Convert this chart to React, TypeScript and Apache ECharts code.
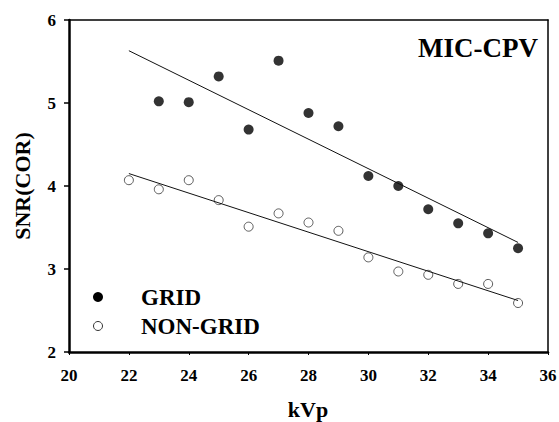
import React, { useEffect, useRef } from "react";
import * as echarts from "echarts";

// Tube voltage (kVp) for each measurement
const gridKvp = [23, 24, 25, 26, 27, 28, 29, 30, 31, 32, 33, 34, 35];
const gridSnr = [5.02, 5.01, 5.32, 4.68, 5.51, 4.88, 4.72, 4.12, 4.0, 3.72, 3.55, 3.43, 3.25];

const nonGridKvp = [22, 23, 24, 25, 26, 27, 28, 29, 30, 31, 32, 33, 34, 35];
const nonGridSnr = [4.07, 3.96, 4.07, 3.83, 3.51, 3.67, 3.56, 3.46, 3.14, 2.97, 2.93, 2.82, 2.82, 2.59];

// Fitted trend lines, given by their end points
const gridFitKvp = [22, 35];
const gridFitSnr = [5.63, 3.32];
const nonGridFitKvp = [22, 35];
const nonGridFitSnr = [4.15, 2.62];

const xTicks = [20, 36, 2];
const yTicks = [2, 6, 1];

const FONT = "'Liberation Serif', 'Times New Roman', serif";
const INK = "#000";

const zip = (xs: number[], ys: number[]) => xs.map((x, i) => [x, ys[i]]);

const labelStyle = { fontFamily: FONT, fontWeight: "bold", fontSize: 17, color: INK };

// Thin frame lines along the top and right edges of the plot
const frameAxis = {
  axisLine: { show: true, lineStyle: { color: INK, width: 1.5 } },
  axisTick: { show: false },
  axisLabel: { show: false },
  splitLine: { show: false },
};

export default function App() {
  const ref = useRef<HTMLDivElement>(null);

  useEffect(() => {
    if (!ref.current) return;
    const chart = echarts.init(ref.current, undefined, { renderer: "svg" });
    chart.setOption({
      animation: false,
      grid: { left: 69, right: 11, top: 20, bottom: 70, outerBoundsMode: "none" },
      xAxis: [
        {
          type: "value",
          position: "bottom",
          min: xTicks[0],
          max: xTicks[1],
          interval: xTicks[2],
          splitLine: { show: false },
          axisLine: { show: true, lineStyle: { color: INK, width: 2.5 } },
          axisTick: { show: true, length: 3, lineStyle: { color: INK, width: 1 } },
          axisLabel: { margin: 15, ...labelStyle },
        },
        { type: "value", position: "top", min: xTicks[0], max: xTicks[1], ...frameAxis },
      ],
      yAxis: [
        {
          type: "value",
          position: "left",
          min: yTicks[0],
          max: yTicks[1],
          interval: yTicks[2],
          splitLine: { show: false },
          axisLine: { show: true, lineStyle: { color: INK, width: 2.5 } },
          axisTick: { show: true, length: 5, lineStyle: { color: INK, width: 1.5 } },
          axisLabel: { margin: 13, ...labelStyle },
        },
        { type: "value", position: "right", min: yTicks[0], max: yTicks[1], ...frameAxis },
      ],
      series: [
        {
          name: "GRID fit",
          type: "line",
          data: zip(gridFitKvp, gridFitSnr),
          showSymbol: false,
          lineStyle: { color: "#111", width: 1 },
          silent: true,
        },
        {
          name: "NON-GRID fit",
          type: "line",
          data: zip(nonGridFitKvp, nonGridFitSnr),
          showSymbol: false,
          lineStyle: { color: "#111", width: 1 },
          silent: true,
        },
        {
          name: "GRID",
          type: "scatter",
          data: zip(gridKvp, gridSnr),
          symbol: "circle",
          symbolSize: 10,
          itemStyle: { color: "#000" },
        },
        {
          name: "NON-GRID",
          type: "scatter",
          data: zip(nonGridKvp, nonGridSnr),
          symbol: "circle",
          symbolSize: 9,
          itemStyle: { color: "rgba(255,255,255,0)", borderColor: "#333", borderWidth: 1 },
        },
      ],
      graphic: [
        {
          type: "text",
          x: 538,
          y: 48,
          style: {
            text: "MIC-CPV",
            font: `bold 27px ${FONT}`,
            fill: INK,
            align: "right",
            verticalAlign: "middle",
          },
        },
        {
          type: "text",
          x: 308,
          y: 409,
          style: {
            text: "kVp",
            font: `bold 22px ${FONT}`,
            fill: INK,
            align: "center",
            verticalAlign: "middle",
          },
        },
        {
          type: "text",
          x: 22,
          y: 186,
          rotation: Math.PI / 2,
          style: {
            text: "SNR(COR)",
            font: `bold 22px ${FONT}`,
            fill: INK,
            align: "center",
            verticalAlign: "middle",
          },
        },
        { type: "circle", shape: { cx: 98, cy: 297, r: 5 }, style: { fill: "#000" } },
        {
          type: "circle",
          shape: { cx: 98, cy: 326, r: 4.5 },
          style: { fill: "none", stroke: "#333", lineWidth: 1 },
        },
        {
          type: "text",
          x: 141,
          y: 297,
          style: { text: "GRID", font: `bold 23px ${FONT}`, fill: INK, verticalAlign: "middle" },
        },
        {
          type: "text",
          x: 141,
          y: 326,
          style: { text: "NON-GRID", font: `bold 23px ${FONT}`, fill: INK, verticalAlign: "middle" },
        },
      ],
    });
    return () => chart.dispose();
  }, []);

  return (
    <div
      ref={ref}
      style={{ position: "fixed", left: 0, top: 0, width: 559, height: 422, overflow: "hidden", background: "#fff" }}
    />
  );
}
